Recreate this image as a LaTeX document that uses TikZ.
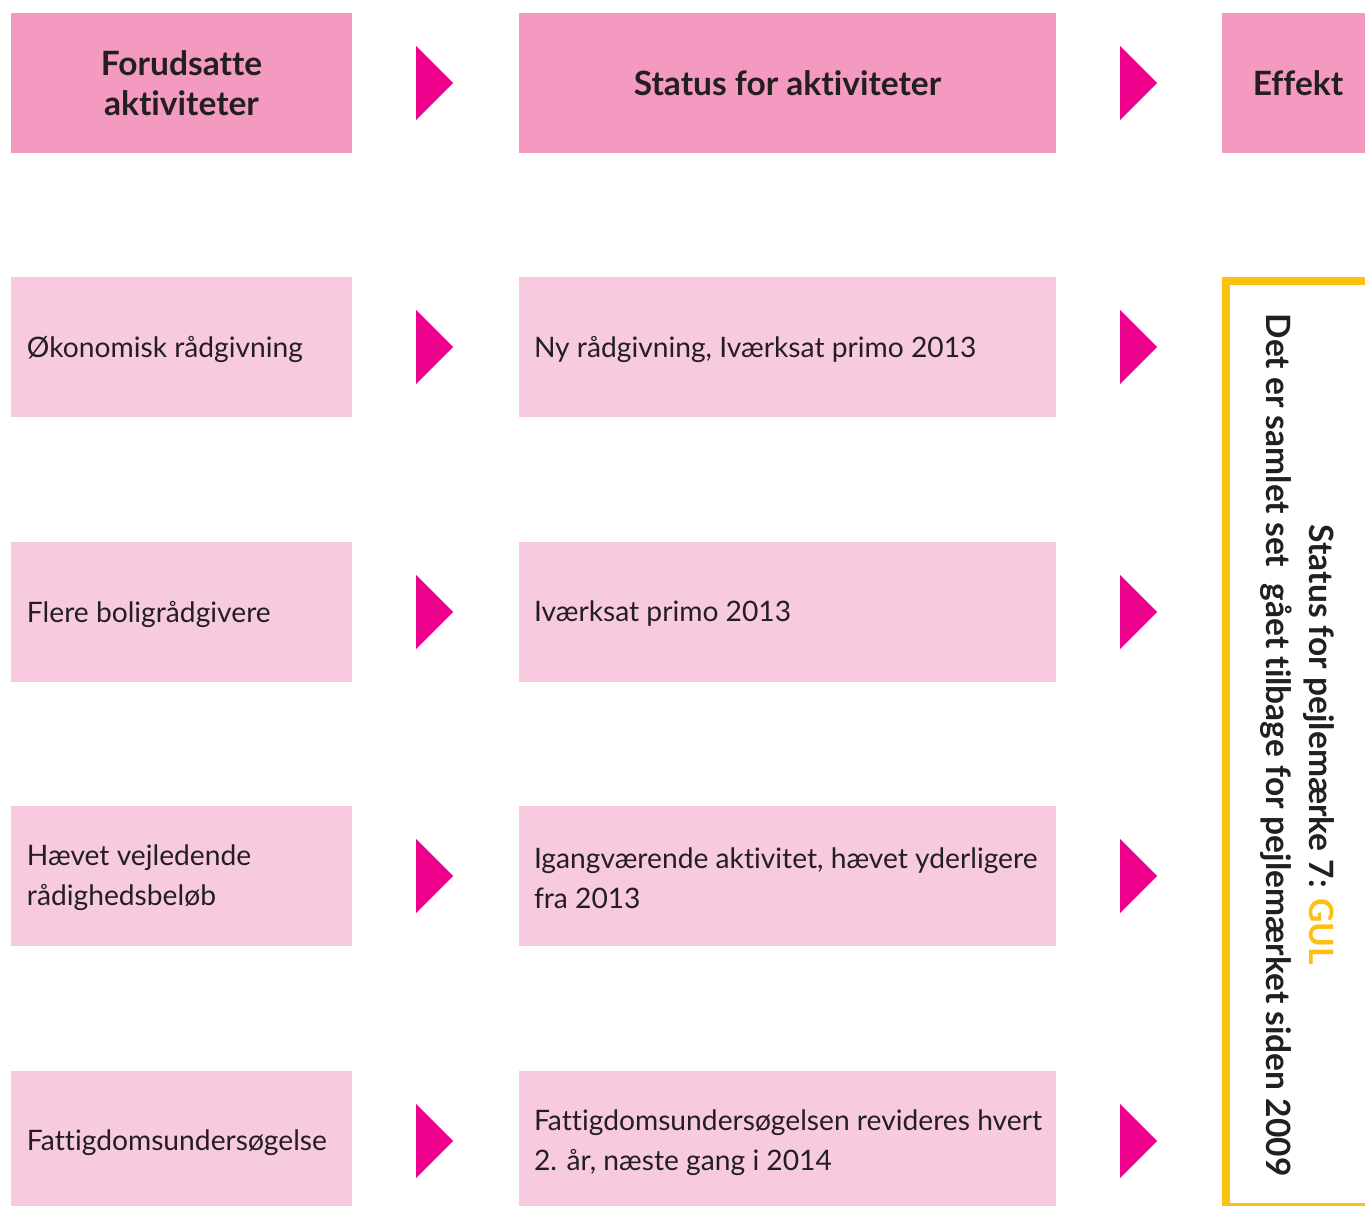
\documentclass[tikz,border=0pt]{standalone}
\usepackage{fontspec}
\setmainfont[Ligatures=NoCommon]{Lato}
\usetikzlibrary{calc}
\definecolor{hdr}{HTML}{F49AC1}
\definecolor{cell}{HTML}{F8CADF}
\definecolor{arr}{HTML}{EC008C}
\definecolor{gul}{HTML}{FDC010}
\definecolor{txt}{HTML}{231F20}
\begin{document}
\begin{tikzpicture}[x=1pt,y=-1pt,
  box/.style={draw=none, inner sep=0pt, minimum height=140pt},
  hdrbox/.style={box, fill=hdr, text=txt, align=center,
    font=\fontsize{33.5}{40}\selectfont\bfseries},
  col1/.style={box, fill=cell, minimum width=341pt},
  col2/.style={box, fill=cell, minimum width=537pt},
  body/.style={inner sep=0pt, text=txt, align=left, anchor=west,
    font=\fontsize{28.2}{40}\selectfont},
  tri/.style={fill=arr},
  frame/.style={draw=gul, line width=8pt},
  vtext/.style={inner sep=0pt, text=txt, align=center, rotate=-90,
    font=\fontsize{33.5}{43}\selectfont\bfseries}
]
\useasboundingbox (0,0) rectangle (1365,1205);
\clip (0,0) rectangle (1365,1205);

% header row
\node[hdrbox, minimum width=341pt] (h1) at (181.5,83) {Forudsatte\\aktiviteter};
\node[hdrbox, minimum width=537pt] (h2) at (787.5,83) {Status for aktiviteter};
\node[hdrbox, minimum width=152pt] (h3) at (1298,83) {Effekt};

% rows
\node[col1] (a1) at (181.5,347) {};
\node[col1] (a2) at (181.5,612) {};
\node[col1] (a3) at (181.5,876) {};
\node[col1] (a4) at (181.5,1141) {};
\node[col2] (b1) at (787.5,347) {};
\node[col2] (b2) at (787.5,612) {};
\node[col2] (b3) at (787.5,876) {};
\node[col2] (b4) at (787.5,1141) {};

\node[body] (ta1) at ($(a1.west)+(16,2)$) {Økonomisk rådgivning};
\node[body] (ta2) at ($(a2.west)+(16,2)$) {Flere boligrådgivere};
\node[body] (ta3) at ($(a3.west)+(16,2)$) {Hævet vejledende\\rådighedsbeløb};
\node[body] (ta4) at ($(a4.west)+(16,2)$) {Fattigdomsundersøgelse};
\node[body] (tb1) at ($(b1.west)+(15,2)$) {Ny rådgivning, Iværksat primo 2013};
\node[body] (tb2) at ($(b2.west)+(15,2)$) {Iværksat primo 2013};
\node[body] (tb3) at ($(b3.west)+(15,2)$) {Igangværende aktivitet, hævet yderligere\\fra 2013};
\node[body] (tb4) at ($(b4.west)+(15,2)$) {Fattigdomsundersøgelsen revideres hvert\\2. år, næste gang i 2014};

% arrows
\foreach \n in {h1,a1,a2,a3,a4,h2,b1,b2,b3,b4}{
  \fill[tri] ($(\n.east)+(64,-37)$) -- ($(\n.east)+(101,0)$) -- ($(\n.east)+(64,37)$) -- cycle;
}

% effect frame
\draw[frame] (1226,281) rectangle (1400,1207);
\node[vtext] (eff) at (1297,745) {Status for pejlemærke 7: \textcolor{gul}{GUL}\\Det er samlet set~ gået tilbage for pejlemærket siden 2009};
\end{tikzpicture}
\end{document}
